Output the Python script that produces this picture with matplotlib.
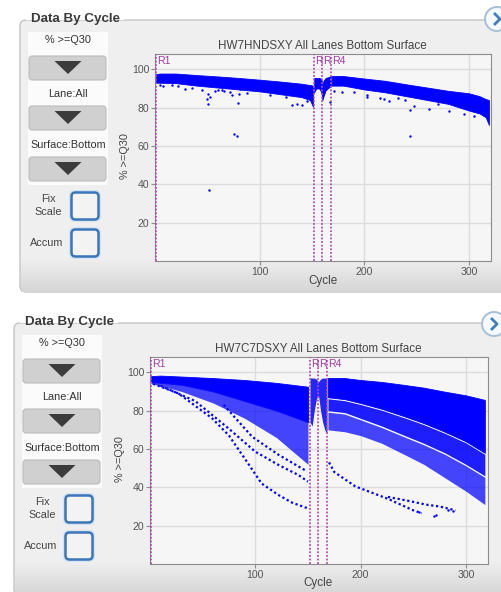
import numpy as np
import matplotlib.pyplot as plt
from matplotlib.patches import FancyBboxPatch, Polygon, Circle, Rectangle

plt.rcParams['font.family'] = ['Liberation Sans', 'DejaVu Sans']

W, H = 501, 592

# read boundaries (cycle where each read starts)
read_starts = [1, 152, 160, 168]
read_labels = ["R1", "R", "R", "R4"]
xticks = [100, 200, 300]
yticks = [20, 40, 60, 80, 100]

# ---------- run 1 : HW7HNDSXY ----------
title_a = "HW7HNDSXY All Lanes Bottom Surface"
a_r1_cyc = [1, 5, 20, 40, 60, 80, 100, 120, 140, 148, 151]
a_r1_hi = [97.5, 97.8, 97.8, 97.0, 96.3, 95.5, 94.6, 93.6, 92.5, 91.8, 91.5]
a_r1_lo = [93.0, 93.0, 92.8, 91.5, 90.5, 89.5, 88.5, 87.0, 85.5, 84.0, 80.5]
a_idx_cyc = [152, 154, 157, 159, 160, 161, 163, 166, 168]
a_idx_hi = [95.5, 95.5, 95.5, 95.0, 92.0, 94.0, 95.5, 96.0, 96.5]
a_idx_lo = [88.0, 90.0, 90.0, 88.0, 84.0, 86.0, 89.0, 90.5, 91.0]
a_r4_cyc = [169, 180, 200, 220, 240, 260, 280, 300, 310, 316, 319]
a_r4_hi = [96.5, 96.5, 95.2, 94.0, 92.2, 90.5, 88.8, 87.5, 86.0, 84.5, 84.0]
a_r4_lo = [91.5, 91.5, 89.5, 88.0, 86.0, 84.0, 82.0, 78.5, 77.0, 75.0, 71.0]
a_out_cyc = [4.8, 16, 28.7, 44.7, 49.5, 51, 51, 52.6, 60.6, 63.8, 71.8, 73.4,
             80.7, 81.3, 79.7, 100.5, 130.8, 135.6, 140.4, 75, 78.8, 52,
             170.6, 178.6, 167.5, 202.6, 203, 215.3, 219, 223.3, 239.2,
             243.4, 247.2, 243.4, 261.5, 280.7,
             8, 22, 35, 57, 66, 88, 110, 125, 145, 190, 232, 270, 295, 305]
a_out_val = [91.7, 92, 89.9, 89, 84.4, 87.3, 82.1, 85.6, 89, 89.3, 88.2, 86.5,
             87.3, 89.9, 82.6, 89, 81.6, 82.1, 81.4, 66.5, 65.1, 37,
             88.7, 88.2, 83, 86.5, 85.6, 85.1, 84.7, 83.5, 84.2,
             79, 80.7, 65.1, 79.5, 78.3,
             91.5, 91.2, 90.1, 88.9, 88.6, 87.6, 86.7, 85.4, 83.4, 88.1, 84.9, 81.8, 76.9, 75.6]

# ---------- run 2 : HW7C7DSXY ----------
title_b = "HW7C7DSXY All Lanes Bottom Surface"
b_r1_cyc = [1, 10, 30, 60, 90, 120, 150]
b_r1_hi = [98.0, 98.3, 97.8, 97.0, 96.0, 94.5, 92.5]
b_r1_mid = [95.0, 94.5, 93.5, 90.0, 85.0, 80.0, 74.0]
b_r1_lo = [94.0, 93.0, 90.0, 84.0, 76.0, 66.0, 52.0]
b_idx_cyc = [152, 154, 156, 158, 160, 162, 164, 166, 168]
b_idx_hi = [97.0, 97.0, 97.0, 96.5, 95.0, 96.5, 97.0, 97.0, 97.0]
b_idx_lo = [74.0, 72.0, 80.0, 86.0, 88.0, 80.0, 74.0, 70.0, 68.0]
b_r4_cyc = [169, 185, 200, 220, 242, 260, 280, 300, 318]
b_r4_a_hi = [97.0, 97.0, 96.0, 95.0, 93.4, 92.0, 89.9, 88.0, 85.6]
b_r4_a_lo = [87.0, 86.0, 84.0, 81.0, 77.0, 73.5, 69.0, 64.0, 58.0]
b_r4_b_hi = [86.2, 85.2, 83.2, 80.2, 76.2, 72.7, 68.2, 63.2, 57.2]
b_r4_b_lo = [80.0, 79.0, 76.0, 72.0, 67.0, 63.0, 58.0, 52.0, 46.0]
b_r4_c_hi = [79.2, 78.2, 75.2, 71.2, 66.2, 62.2, 57.2, 51.2, 45.2]
b_r4_c_lo = [70.0, 69.0, 67.0, 63.0, 57.0, 52.0, 45.0, 38.0, 31.0]
# single tiles that fall away from the main band
b_trace_cyc = [
    [3, 27, 59, 75, 90, 106, 122, 135, 150],
    [10, 43, 74, 100, 122, 141, 150],
    [70, 97, 122, 147],
    [170, 175, 195, 226, 250, 258],
    [226, 245, 262, 275, 290],
]
b_trace_val = [
    [94, 89, 76, 67, 55, 42, 36, 32, 29],
    [93, 85, 71, 58.6, 51.7, 46.4, 43],
    [83, 66.4, 57, 49],
    [53, 48, 40.5, 34, 28, 26.5],
    [35, 33, 31, 30, 28],
]
b_out_cyc = [270, 272, 283, 288, 255]
b_out_val = [25.3, 25.6, 28, 27.6, 27]

BLUE = '#0000ff'
PURPLE = '#b050b0'
PANEL = '#efefef'


def box(x0, y0, x1, y1):
    return [x0 / W, 1 - y1 / H, (x1 - x0) / W, (y1 - y0) / H]


def gradient(ax, x0, y0, x1, y1, c_top, c_bot, clip=None):
    t = np.linspace(0, 1, 64)[:, None, None]
    a = np.array(plt.matplotlib.colors.to_rgb(c_top))
    b = np.array(plt.matplotlib.colors.to_rgb(c_bot))
    img = (a * (1 - t) + b * t) * np.ones((1, 2, 1))
    im = ax.imshow(img, extent=[x0, x1, y1, y0], aspect='auto', zorder=1)
    if clip is not None:
        im.set_clip_path(clip)


def draw_panel(ax, ox, oy, circ):
    # group box
    ax.add_patch(FancyBboxPatch((20 + ox, 20 + oy), 500, 272, boxstyle="round,pad=0,rounding_size=6",
                                fc=PANEL, ec='#c4c4c4', lw=1, zorder=0))
    gradient(ax, 21 + ox, 258 + oy, 501, 292 + oy, PANEL, '#d6d6d6')
    ax.add_patch(Rectangle((26 + ox, 10 + oy), 98, 10, fc='white', ec='none', zorder=1))
    ax.text(31 + ox, 19 + oy, "Data By Cycle", fontsize=9.6, fontweight='bold', color='#3a3a3a',
            ha='left', va='center', zorder=3)
    # controls column
    ax.add_patch(Rectangle((28 + ox, 32 + oy), 80, 153, fc='#fbfbfb', ec='none', zorder=1))
    for txt, yy in [("% >=Q30", 40), ("Lane:All", 94), ("Surface:Bottom", 145)]:
        ax.text(68 + ox, yy + oy, txt, fontsize=7.8, color='#333333', ha='center', va='center', zorder=3)
    for yy in [56, 106, 157]:
        p = FancyBboxPatch((29 + ox, yy + oy), 77, 24, boxstyle="round,pad=0,rounding_size=3",
                           fc='#d0d0d0', ec='#bcbcbc', lw=0.8, zorder=2)
        ax.add_patch(p)
        gradient(ax, 29 + ox, yy + oy, 106 + ox, yy + 24 + oy, '#e6e6e6', '#c2c2c2', clip=p)
        cx = 68 + ox
        ax.add_patch(Polygon([(cx - 13.5, yy + 5 + oy), (cx + 13.5, yy + 5 + oy), (cx, yy + 18 + oy)],
                             closed=True, fc='#3c3c3c', ec='none', zorder=3))
    # check boxes
    ax.text(48 + ox, 199 + oy, "Fix", fontsize=7.8, color='#444444', ha='center', va='center', zorder=3)
    ax.text(48 + ox, 212 + oy, "Scale", fontsize=7.8, color='#444444', ha='center', va='center', zorder=3)
    ax.text(47 + ox, 243 + oy, "Accum", fontsize=7.8, color='#444444', ha='center', va='center', zorder=3)
    for yy in [192, 229]:
        ax.add_patch(FancyBboxPatch((69 + ox, yy - 2 + oy), 32, 32, boxstyle="round,pad=0,rounding_size=6",
                                    fc='#d3e3f2', ec='none', zorder=2))
        ax.add_patch(FancyBboxPatch((71.5 + ox, yy + 0.5 + oy), 27, 27, boxstyle="round,pad=0,rounding_size=4",
                                    fc='#f3f3f3', ec='#3a76b8', lw=1.8, zorder=3))
    # arrow button at the right
    cx, cy = circ
    ax.add_patch(Circle((cx, cy), 12, fc='#f6f9fc', ec='#a9bfd5', lw=1.4, zorder=3))
    ax.plot([cx - 2, cx + 3, cx - 2], [cy - 5, cy, cy + 5], color='#3f7fbf', lw=2, zorder=4)


def setup_plot(ax):
    ax.set_facecolor('#f6f6f6')
    ax.set_xlim(0, 321)
    ax.set_ylim(0, 108)
    ax.set_xticks(xticks)
    ax.set_yticks(yticks)
    ax.set_axisbelow(True)
    ax.grid(True, color='#dcdcdc', lw=1)
    for s in ax.spines.values():
        s.set_color('#8c8c8c')
    ax.tick_params(labelsize=7.6, labelcolor='#555555', color='#8c8c8c', length=3, pad=1)
    for c, lab in zip(read_starts, read_labels):
        ax.axvline(c, color=PURPLE, ls=(0, (1, 1)), lw=1.3, zorder=4)
        ax.text(c + 1, 104.2, lab, fontsize=7.6, color='#a03ca0', ha='left', va='center', zorder=5)


fig = plt.figure(figsize=(W / 100, H / 100), dpi=100)
bg = fig.add_axes([0, 0, 1, 1])
bg.set_axis_off()

draw_panel(bg, 0, 0, (497, 19))
draw_panel(bg, -6, 303, (494, 324))

# chart titles and axis labels
bg.text(322.5, 46, title_a, fontsize=8.4, color='#444444', ha='center', va='center')
bg.text(318, 349, title_b, fontsize=8.4, color='#444444', ha='center', va='center')
bg.text(323, 281, "Cycle", fontsize=8.4, color='#444444', ha='center', va='center')
bg.text(318, 583, "Cycle", fontsize=8.4, color='#444444', ha='center', va='center')
bg.text(125, 156, "% >=Q30", fontsize=7.8, color='#444444', ha='center', va='center', rotation=90)
bg.text(120, 459, "% >=Q30", fontsize=7.8, color='#444444', ha='center', va='center', rotation=90)
bg.set_xlim(0, W)
bg.set_ylim(H, 0)

# ---- chart 1 ----
ax1 = fig.add_axes(box(155, 54, 491, 261))
setup_plot(ax1)
ax1.fill_between(a_r1_cyc, a_r1_lo, a_r1_hi, color=BLUE, lw=0.6, zorder=3)
ax1.fill_between(a_idx_cyc, a_idx_lo, a_idx_hi, color=BLUE, lw=0.6, zorder=3)
ax1.fill_between(a_r4_cyc, a_r4_lo, a_r4_hi, color=BLUE, lw=0.6, zorder=3)
ax1.scatter(a_out_cyc, a_out_val, s=3, color=BLUE, lw=0, zorder=3)

# ---- chart 2 ----
ax2 = fig.add_axes(box(150, 357, 488, 564))
setup_plot(ax2)
ax2.fill_between(b_r1_cyc, b_r1_mid, b_r1_hi, color=BLUE, lw=0.6, zorder=3)
ax2.fill_between(b_r1_cyc, b_r1_lo, b_r1_mid, color=BLUE, alpha=0.72, lw=0, zorder=3)
ax2.fill_between(b_idx_cyc, b_idx_lo, b_idx_hi, color=BLUE, alpha=0.85, lw=0, zorder=3)
ax2.fill_between(b_r4_cyc, b_r4_a_lo, b_r4_a_hi, color=BLUE, lw=0.6, zorder=3)
ax2.fill_between(b_r4_cyc, b_r4_b_lo, b_r4_b_hi, color=BLUE, alpha=0.88, lw=0, zorder=3)
ax2.fill_between(b_r4_cyc, b_r4_c_lo, b_r4_c_hi, color=BLUE, alpha=0.72, lw=0, zorder=3)
for cc, vv in zip(b_trace_cyc, b_trace_val):
    ax2.plot(cc, vv, color=BLUE, ls=(0, (1, 1.2)), lw=1.6, zorder=3)
ax2.scatter(b_out_cyc, b_out_val, s=3, color=BLUE, lw=0, zorder=3)

fig.savefig("out.png", dpi=100)
